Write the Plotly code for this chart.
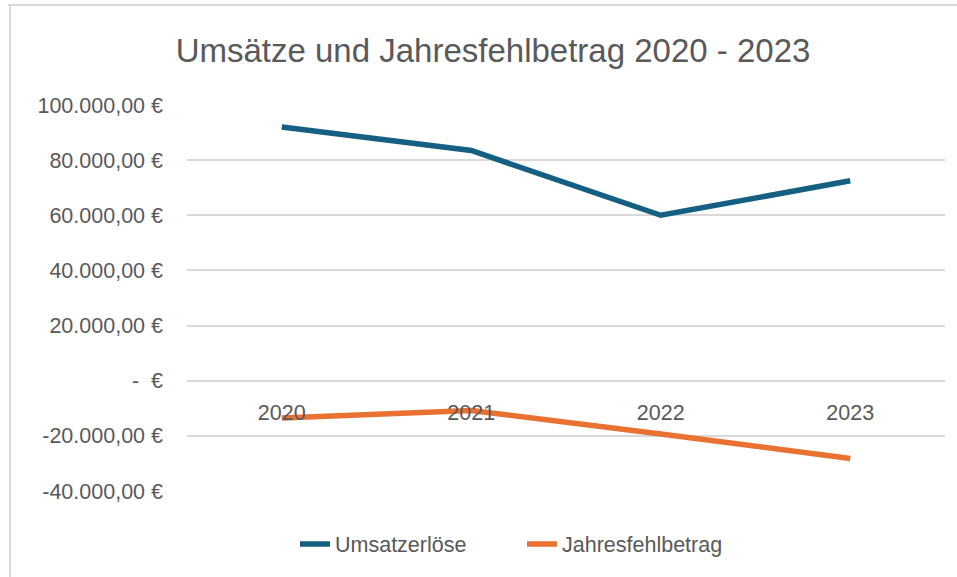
import plotly.graph_objects as go

years = ["2020", "2021", "2022", "2023"]
umsatz = [92000, 83500, 60000, 72500]
fehlbetrag = [-13500, -10800, -19300, -28200]
y_ticks = [-40000, -20000, 0, 20000, 40000, 60000, 80000, 100000]
y_labels = ["-40.000,00 €", "-20.000,00 €", "-  €", "20.000,00 €", "40.000,00 €",
            "60.000,00 €", "80.000,00 €", "100.000,00 €"]

W, H = 957, 577
L, R, T, B = 187, 12, 105, 86
ph = H - T - B
pw = W - L - R

fig = go.Figure()
fig.add_trace(go.Scatter(x=years, y=umsatz, name="Umsatzerlöse", mode="lines",
                         line=dict(color="#156082", width=5.5)))
fig.add_trace(go.Scatter(x=years, y=fehlbetrag, name="Jahresfehlbetrag", mode="lines",
                         line=dict(color="#E97132", width=5.5)))

zero_pos = (0 - (-40000)) / 140000
FS = 21.5

fig.update_layout(
    width=W, height=H,
    margin=dict(l=L, r=R, t=T, b=B, autoexpand=False),
    paper_bgcolor="white", plot_bgcolor="white",
    font=dict(family="Liberation Sans, Arial, sans-serif", color="#595959", size=FS),
    title=dict(text="Umsätze und Jahresfehlbetrag 2020 - 2023",
               font=dict(family="Liberation Sans, sans-serif", size=33, color="#595959"),
               x=(493 - L) / pw, xanchor="center", xref="paper",
               y=1 - 50 / H, yanchor="middle"),
    xaxis=dict(type="category", range=[-0.5, 3.5], showgrid=False, showline=False,
               zeroline=False, ticks="", anchor="free", position=zero_pos,
               ticklabelstandoff=17, tickfont=dict(size=FS, color="#595959")),
    yaxis=dict(range=[-40000, 100000], tickvals=y_ticks, ticktext=y_labels,
               showgrid=True, gridcolor="#d9d9d9", gridwidth=1.5, zeroline=False,
               showline=False, ticks="", ticklabelstandoff=23,
               tickfont=dict(size=FS, color="#595959")),
    legend=dict(orientation="h", x=(522 - L) / pw, xanchor="center",
                y=-(544 - (H - B)) / ph, yanchor="middle",
                font=dict(size=FS, color="#595959"), tracegroupgap=0,
                entrywidth=182, entrywidthmode="pixels"),
    showlegend=True,
)

# chart border (top and left edges visible)
fig.add_shape(type="line", xref="paper", yref="paper",
              x0=(8 - L) / pw, x1=(W + 10 - L) / pw, y0=(H - B - 5) / ph, y1=(H - B - 5) / ph,
              line=dict(color="#d9d9d9", width=2))
fig.add_shape(type="line", xref="paper", yref="paper",
              x0=(10 - L) / pw, x1=(10 - L) / pw, y0=(H - B - 5) / ph, y1=-(B + 5) / ph,
              line=dict(color="#d9d9d9", width=2))

fig.write_html("out.html", config={"displayModeBar": False},
               post_script="document.body.style.margin='0';document.body.style.overflow='hidden';")
